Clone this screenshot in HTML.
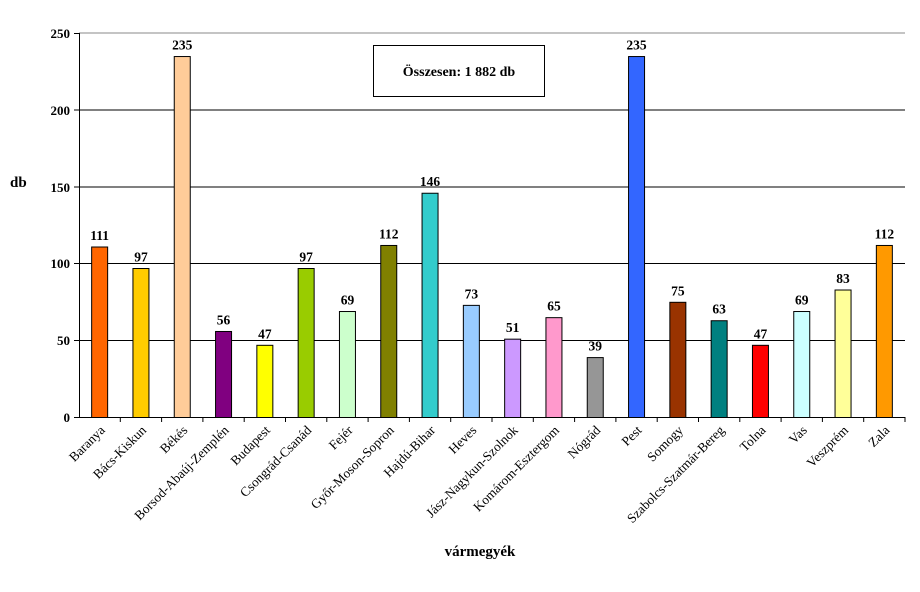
<!DOCTYPE html>
<html><head><meta charset="utf-8"><style>
html,body{margin:0;padding:0;background:#fff;}
svg{display:block;font-family:"Liberation Serif","DejaVu Serif",serif;}
.v{font-weight:bold;font-size:13.5px;text-anchor:middle;}
.y{font-weight:bold;font-size:13px;text-anchor:end;}
.c{font-size:13.3px;text-anchor:end;}
</style></head><body>
<svg width="920" height="592" viewBox="0 0 920 592">
<line x1="79" y1="33" x2="905" y2="33" stroke="#888" stroke-width="1"/>
<g stroke="#000" stroke-width="1">
<line x1="79" y1="110" x2="905" y2="110"/>
<line x1="79" y1="187" x2="905" y2="187"/>
<line x1="79" y1="263.5" x2="905" y2="263.5"/>
<line x1="79" y1="340.5" x2="905" y2="340.5"/>
<line x1="79.5" y1="33" x2="79.5" y2="417"/>
<line x1="79" y1="417.5" x2="905" y2="417.5"/>
<line x1="74" y1="33.5" x2="79" y2="33.5"/><line x1="74" y1="110" x2="79" y2="110"/><line x1="74" y1="187" x2="79" y2="187"/><line x1="74" y1="263.5" x2="79" y2="263.5"/><line x1="74" y1="340.5" x2="79" y2="340.5"/><line x1="74" y1="417.5" x2="79" y2="417.5"/>
</g>
<g class="y"><text x="70" y="38">250</text><text x="70" y="115">200</text><text x="70" y="192">150</text><text x="70" y="268">100</text><text x="70" y="345">50</text><text x="70" y="422">0</text></g>
<text x="10" y="187" style="font-weight:bold;font-size:15px">db</text>
<rect x="373.5" y="45.5" width="171" height="51" fill="#fff" stroke="#000"/>
<text x="459" y="76" style="font-weight:bold;font-size:14px;text-anchor:middle">Összesen: 1 882 db</text>
<text x="480" y="556" style="font-weight:bold;font-size:15px;text-anchor:middle">vármegyék</text>
<g id="bars"></g>
</svg>
<script>
var d=[["Baranya",111,"#ff6600"],["Bács-Kiskun",97,"#ffcc00"],["Békés",235,"#ffcc99"],["Borsod-Abaúj-Zemplén",56,"#800080"],["Budapest",47,"#ffff00"],["Csongrád-Csanád",97,"#99cc00"],["Fejér",69,"#ccffcc"],["Győr-Moson-Sopron",112,"#808000"],["Hajdú-Bihar",146,"#33cccc"],["Heves",73,"#99ccff"],["Jász-Nagykun-Szolnok",51,"#cc99ff"],["Komárom-Esztergom",65,"#ff99cc"],["Nógrád",39,"#969696"],["Pest",235,"#3366ff"],["Somogy",75,"#993300"],["Szabolcs-Szatmár-Bereg",63,"#008080"],["Tolna",47,"#ff0000"],["Vas",69,"#ccffff"],["Veszprém",83,"#ffff99"],["Zala",112,"#ff9900"]];
var g=document.getElementById("bars"),s="",w=41.3;
for(var i=0;i<d.length;i++){var cx=79+w*(i+0.5),h=d[i][1]*1.536,t=417.5-h;
s+='<rect x="'+(cx-8)+'" y="'+t+'" width="16" height="'+h+'" fill="'+d[i][2]+'" stroke="#000" stroke-width="1"/>';
s+='<text class="v" x="'+cx+'" y="'+(t-7)+'">'+d[i][1]+'</text>';
s+='<line x1="'+(79+w*(i+1))+'" y1="417" x2="'+(79+w*(i+1))+'" y2="422" stroke="#000"/>';
s+='<text class="c" transform="translate('+(cx+6)+',431) rotate(-45)">'+d[i][0]+'</text>';}
g.innerHTML=s;
</script>
</body></html>
